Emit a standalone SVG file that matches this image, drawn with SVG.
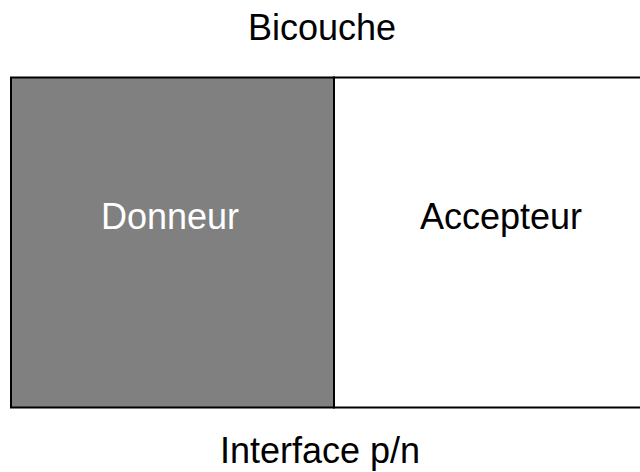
<svg xmlns="http://www.w3.org/2000/svg" width="640" height="472" viewBox="0 0 640 472">
<style>
.t{font-family:"Liberation Sans",Arial,sans-serif;font-size:36px;text-anchor:middle}
</style>
<rect width="640" height="472" fill="#fff"/>
<g id="bicouche-label"><text class="t" x="322" y="40" fill="#000">Bicouche</text></g>
<g id="accepteur">
<rect x="334" y="77.5" width="310" height="330" fill="#fff" stroke="#000" stroke-width="2"/>
<text class="t" x="501" y="229" fill="#000">Accepteur</text>
</g>
<g id="donneur">
<rect x="11" y="77.5" width="323" height="330" fill="#808080" stroke="#000" stroke-width="2"/>
<text class="t" x="170" y="229" fill="#fff">Donneur</text>
</g>
<g id="interface-label"><text class="t" x="320" y="463" fill="#000">Interface p/n</text></g>
<g id="connectors"></g>
</svg>
